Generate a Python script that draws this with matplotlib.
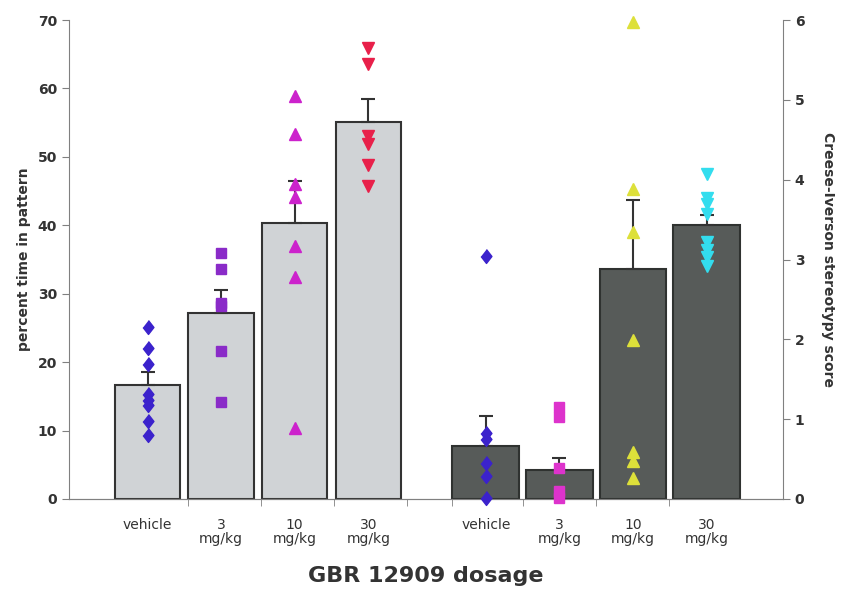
import matplotlib.pyplot as plt
import numpy as np

# categories
doses = ["vehicle", "3\nmg/kg", "10\nmg/kg", "30\nmg/kg"]

# percent time in pattern (left axis)
pct_mean = [16.7, 27.2, 40.3, 55.1]
pct_err = [1.9, 3.3, 6.2, 3.4]
pct_vehicle = [25.2, 22.0, 19.7, 15.4, 14.5, 13.7, 11.4, 9.3]
pct_3 = [36.0, 33.6, 28.6, 28.2, 21.7, 14.2]
pct_10 = [58.9, 53.4, 46.0, 44.1, 36.9, 32.5, 10.4]
pct_30 = [65.9, 63.5, 53.1, 51.9, 48.8, 45.8]

# Creese-Iverson stereotypy score (right axis)
ci_mean = [0.66, 0.36, 2.88, 3.43]
ci_err = [0.38, 0.15, 0.86, 0.13]
ci_vehicle = [3.04, 0.83, 0.75, 0.45, 0.29, 0.01]
ci_3 = [1.15, 1.03, 0.39, 0.10, 0.01]
ci_10 = [5.98, 3.88, 3.35, 1.99, 0.59, 0.47, 0.26]
ci_30 = [4.07, 3.77, 3.69, 3.57, 3.22, 3.12, 3.03, 2.92]

pos_left = np.arange(4)
pos_right = np.arange(4) + 4.6
tick_marks = [0.55, 1.54, 2.54, 3.53, 4.14, 5.11, 6.1, 7.09]

txt = "#333333"
axcol = "#808080"
diamond = [(0, 1), (0.78, 0), (0, -1), (-0.78, 0)]

fig = plt.figure(figsize=(8.44, 5.9), dpi=100)
ax = fig.add_axes([69 / 844, 91 / 590, 714 / 844, 479 / 590])
ax2 = ax.twinx()

# bars
ax.bar(pos_left, pct_mean, width=0.89, color="#d0d3d6", edgecolor="#333333", linewidth=1.5, zorder=2)
ax.errorbar(pos_left, pct_mean, yerr=[np.zeros(4), pct_err], fmt="none", ecolor="#333333",
            elinewidth=1.5, capsize=5, capthick=1.5, zorder=3)
ax2.bar(pos_right, ci_mean, width=0.91, color="#575b59", edgecolor="#2f3230", linewidth=1.5, zorder=2)
ax2.errorbar(pos_right, ci_mean, yerr=[np.zeros(4), ci_err], fmt="none", ecolor="#333333",
             elinewidth=1.5, capsize=5, capthick=1.5, zorder=3)

# individual points
ax.plot([pos_left[0]] * len(pct_vehicle), pct_vehicle, ls="none", marker=diamond, ms=10, color="#3b22cc", zorder=4)
ax.plot([pos_left[1]] * len(pct_3), pct_3, ls="none", marker="s", ms=7.5, color="#8a2bc8", zorder=4)
ax.plot([pos_left[2]] * len(pct_10), pct_10, ls="none", marker="^", ms=8.5, color="#cc22cc", zorder=4)
ax.plot([pos_left[3]] * len(pct_30), pct_30, ls="none", marker="v", ms=8.5, color="#e8204a", zorder=4)

ax2.plot([pos_right[0]] * len(ci_vehicle), ci_vehicle, ls="none", marker=diamond, ms=10, color="#3b22cc", zorder=4,
         clip_on=False)
ax2.plot([pos_right[1]] * len(ci_3), ci_3, ls="none", marker="s", ms=7.5, color="#dd33cc", zorder=4, clip_on=False)
ax2.plot([pos_right[2]] * len(ci_10), ci_10, ls="none", marker="^", ms=8.5, color="#dde03a", zorder=4, clip_on=False)
ax2.plot([pos_right[3]] * len(ci_30), ci_30, ls="none", marker="v", ms=8.5, color="#33ddee", zorder=4)

# axes setup
ax.set_xlim(-1.07, 8.64)
ax.set_ylim(0, 70)
ax2.set_ylim(0, 6)
ax.set_yticks(range(0, 71, 10))
ax2.set_yticks(range(0, 7))

ax.set_xticks(list(pos_left) + list(pos_right))
ax.set_xticklabels(doses * 2, fontsize=10, color=txt, linespacing=1.0)
ax.set_xticks(tick_marks, minor=True)
ax.tick_params(axis="x", which="major", length=0, pad=14)
ax.tick_params(axis="x", which="minor", length=5, color=axcol, direction="out")

ax.tick_params(axis="y", length=5, color=axcol, labelsize=10, labelcolor=txt)
ax2.tick_params(axis="y", length=5, color=axcol, labelsize=10, labelcolor=txt)
for lab in ax.get_yticklabels() + ax2.get_yticklabels():
    lab.set_fontweight("bold")

for a in (ax, ax2):
    a.spines["top"].set_visible(False)
    for s in ("left", "right", "bottom"):
        a.spines[s].set_color(axcol)
ax2.spines["left"].set_visible(False)
ax.spines["right"].set_visible(False)

ax.set_ylabel("percent time in pattern", fontsize=10, fontweight="bold", color=txt, labelpad=5)
ax2.set_ylabel("Creese-Iverson stereotypy score", fontsize=10, fontweight="bold", color=txt,
               rotation=-90, labelpad=22)
ax.set_xlabel("GBR 12909 dosage", fontsize=16, fontweight="bold", color=txt, labelpad=14)

plt.savefig("out.png", dpi=100)
